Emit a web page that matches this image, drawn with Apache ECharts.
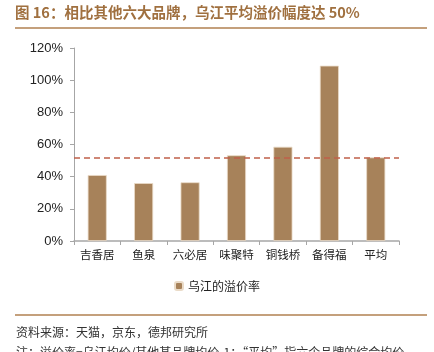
<!DOCTYPE html>
<html><head><meta charset="utf-8">
<script src="https://cdn.jsdelivr.net/npm/echarts@6/dist/echarts.min.js"></script>
<style>html,body{margin:0;padding:0;background:#fff}#c{width:434px;height:352px}</style>
</head><body><div id="c"></div>
<script>
var categories = ['吉香居', '鱼泉', '六必居', '味聚特', '铜钱桥', '备得福', '平均'];
var premiumRate = [41, 36, 36.5, 53.3, 58.6, 109, 52];
var averageLine = 51.8;
var yTicks = [0, 20, 40, 60, 80, 100, 120];
var seriesName = '乌江的溢价率';
var titleText = '图 16：相比其他六大品牌，乌江平均溢价幅度达 50%';
var sourceText = '资料来源：天猫，京东，德邦研究所';
var noteText = '注：溢价率=乌江均价/其他某品牌均价-1；“平均”指六个品牌的综合均价';

var chart = echarts.init(document.getElementById('c'));
var cjk = '"Noto Sans CJK SC", sans-serif';
chart.setOption({
  animation: false,
  backgroundColor: '#fff',
  grid: {left: 74, right: 35, top: 48, bottom: 111},
  legend: {
    data: [seriesName], top: 275, left: 'center',
    itemWidth: 8, itemHeight: 8, itemGap: 4,
    textStyle: {fontFamily: cjk, fontSize: 12, color: '#222'}
  },
  xAxis: {
    type: 'category', data: categories,
    axisLine: {lineStyle: {color: '#a6a6a6', width: 1.5}},
    axisTick: {show: true, length: 4, inside: false, lineStyle: {color: '#a6a6a6'}},
    axisLabel: {interval: 0, fontFamily: cjk, fontSize: 11.5, color: '#222', margin: 8}
  },
  yAxis: {
    type: 'value', min: yTicks[0], max: yTicks[yTicks.length - 1], interval: 20,
    splitLine: {show: false},
    axisLine: {show: true, lineStyle: {color: '#a6a6a6', width: 1}},
    axisTick: {show: true, length: 4, lineStyle: {color: '#a6a6a6'}},
    axisLabel: {formatter: '{value}%', fontFamily: '"Liberation Sans", Arial, sans-serif', fontSize: 13, color: '#222', margin: 11}
  },
  series: [{
    name: seriesName, type: 'bar', data: premiumRate, barWidth: '41%',
    itemStyle: {color: '#A7825A', borderColor: '#EADBC8', borderWidth: 0.8},
    markLine: {
      symbol: 'none', silent: true, label: {show: false},
      lineStyle: {color: '#C0604A', type: [6, 4], width: 1.5},
      data: [{yAxis: averageLine}]
    }
  }],
  graphic: [
    {type: 'text', left: 15, top: 5, style: {text: titleText, font: 'bold 14.5px "Noto Sans CJK SC", sans-serif', fill: '#A0703F'}},
    {type: 'line', shape: {x1: 15, y1: 28, x2: 427, y2: 28}, style: {stroke: '#B08050', lineWidth: 1.5}},
    {type: 'line', shape: {x1: 15, y1: 315, x2: 427, y2: 315}, style: {stroke: '#B08050', lineWidth: 1.5}},
    {type: 'text', left: 16, top: 326, style: {text: sourceText, font: '12px "Noto Sans CJK SC", sans-serif', fill: '#333'}},
    {type: 'text', left: 16, top: 346, style: {text: noteText, font: '12px "Noto Sans CJK SC", sans-serif', fill: '#333'}}
  ]
});
</script></body></html>
